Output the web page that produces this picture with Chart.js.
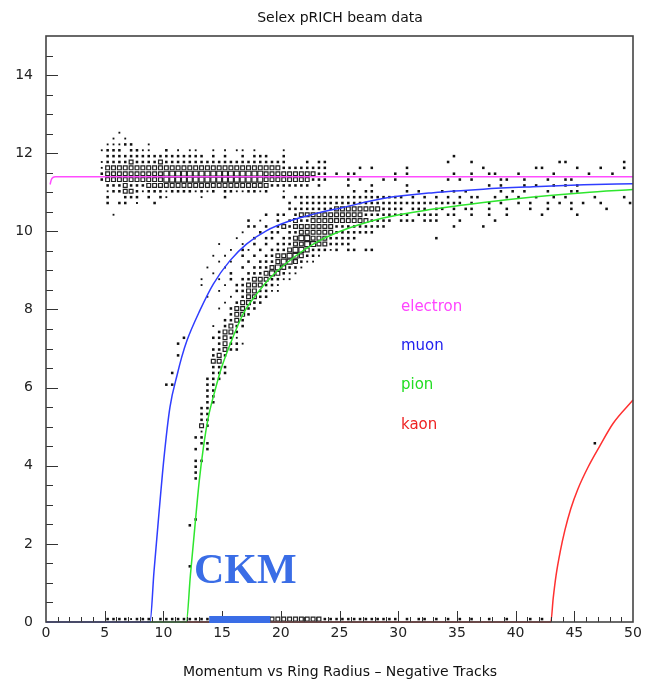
<!DOCTYPE html>
<html lang="en">
<head>
<meta charset="UTF-8">
<title>Selex pRICH beam data</title>
<script src="https://cdn.jsdelivr.net/npm/chart.js"></script>
<style>
  body { margin: 0; background: #fff; }
  #wrap { position: relative; width: 656px; height: 687px; }
</style>
</head>
<body>
<div id="wrap"><canvas id="richChart"></canvas></div>
<script>
// expected ring radius vs momentum: [p, radius]
const electronCurve = [[0.35, 11.2], [0.45, 11.32], [0.6, 11.38], [0.8, 11.4], [50, 11.4]];
const muonCurve = [[0, 0], [8.86, 0], [9.2, 1.3], [9.57, 2.6], [10.05, 4.2], [10.56, 5.5], [11.2, 6.36],
  [11.56, 6.78], [12.0, 7.2], [13.1, 7.97], [14.25, 8.65], [15.67, 9.25], [17.1, 9.68], [18.8, 10.02],
  [20.8, 10.27], [22.8, 10.44], [25.3, 10.61], [28.7, 10.84], [33, 10.99], [37.25, 11.08],
  [41.5, 11.14], [45.8, 11.19], [50, 11.22]];
const pionCurve = [[8.6, 0], [11.95, 0], [12.3, 1.2], [12.7, 2.5], [13.05, 3.6], [13.4, 4.45], [13.8, 5.2],
  [14.4, 5.93], [14.96, 6.52], [15.67, 7.1], [16.8, 7.89], [17.95, 8.4], [19.4, 8.9], [21.1, 9.33],
  [22.8, 9.68], [24.8, 9.97], [28.7, 10.34], [33, 10.57], [37.25, 10.74], [41.5, 10.88],
  [45.8, 10.99], [50, 11.07]];
const kaonCurve = [[11.4, 0], [43.0, 0], [43.2, 0.6], [43.45, 1.2], [43.8, 1.8], [44.2, 2.35], [44.7, 2.9],
  [45.3, 3.4], [46.2, 3.98], [47.2, 4.52], [48.3, 5.08], [50, 5.68]];

const particleNames = ['electron', 'muon', 'pion', 'kaon'];
const xTickLabels = [0, 5, 10, 15, 20, 25, 30, 35, 40, 45, 50];
const yTickLabels = [0, 2, 4, 6, 8, 10, 12, 14];

// 2D histogram, 100 x 100 bins (0.5 in p, 0.15 in radius)
// [row, first column, cell codes]  . empty, 1/2 dot, 3/4 open box
const binX = 0.5, binY = 0.15;
const cellRows = [
  [83, 12, '1'],
  [82, 11, '1.1'],
  [81, 10, '11122..1'],
  [80, 9, '1222.2211..2.1.11..1.1.11.1....1'],
  [79, 10, '22222222222222222.2.2..2.222..2'],
  [78, 9, '12222322223222222222222222222222...2.22'],
  [77, 9, '1' + '3333333333' + '3333333333' + '3333333333' + '22222222'],
  [76, 9, '2' + '3333333333' + '4444444444' + '44444443' + '3333333' + '322'],
  [75, 9, '2' + '3333333333' + '4444444444' + '44444443' + '33333' + '3322' + '2'],
  [74, 10, '2223222333' + '3333333333' + '3333333322' + '22222' + '.2'],
  [73, 10, '1223321222' + '122221212.' + '22112212..1'],
  [72, 10, '2..222.2.21' + '.....1...2' + '.........2.2'],
  [71, 10, '2.22.1..2'],
  [69, 11, '1'],
  [44, 28, '33'],
  [43, 28, '222'],
  [42, 28, '222'],
  [41, 27, '222'],
  [40, 27, '22'],
  [39, 27, '22'],
  [38, 27, '22'],
  [37, 27, '22'],
  [36, 26, '22'],
  [35, 26, '22'],
  [34, 26, '22'],
  [33, 26, '32'],
  [32, 26, '1'],
  [31, 25, '22'],
  [30, 26, '22'],
  [29, 25, '2.2'],
  [27, 25, '22'],
  [26, 25, '2'],
  [25, 25, '2'],
  [45, 28, '232'],
  [46, 28, '22322'],
  [47, 29, '23221'],
  [48, 28, '22321'],
  [49, 29, '2332'],
  [50, 28, '1.2322'],
  [51, 30, '2232'],
  [52, 31, '2332'],
  [53, 29, '1.23322'],
  [54, 30, '1.23322'],
  [55, 27, '1...1.23322'],
  [56, 29, '1..22332211'],
  [57, 26, '1...1.22333221'],
  [58, 26, '1..1.2.223332211'],
  [59, 28, '1..2..222343211'],
  [60, 27, '1..1..2.222343221'],
  [61, 29, '1.1..2.2223443211'],
  [62, 28, '1.1..2.2.2233443221'],
  [63, 31, '1.21.2.22234' + '4322212.22.22'],
  [64, 29, '1...1.2.2.2223' + '344332222'],
  [65, 32, '1..2.22.223' + '4433322222'],
  [66, 33, '1..2.22.22' + '3333332222222'],
  [67, 34, '22.2.2323' + '333333222222222'],
  [68, 34, '2.1..2.23' + '223333333333' + '2222.222.222'],
  [69, 37, '2.22.2' + '33333333333' + '22222222.2222.22'],
  [70, 41, '22222222' + '33333333' + '2222.222.22.2.22'],
  [71, 41, '2.' + '2222222222' + '2222222222' + '22222222'],
  [72, 43, '222222222222222222'],
  [0, 10, '22221222.' + '2222222222222222222' + '333333333' + '2222222222222']
];
// isolated single dots: [row, [columns]]
const looseCells = [
  [79, [69]],
  [78, [68, 72, 87, 88, 98]],
  [77, [53, 55, 61, 74, 83, 84, 90, 94, 98]],
  [76, [49, 51, 52, 59, 61, 69, 72, 75, 76, 80, 86, 92, 96]],
  [75, [51, 53, 57, 59, 68, 70, 72, 77, 78, 81, 85, 88, 89]],
  [74, [51, 55, 61, 75, 77, 81, 83, 86, 88, 90]],
  [73, [52, 54, 55, 61, 63, 67, 69, 71, 77, 79, 81, 85, 89, 90]],
  [72, [62, 64, 66, 68, 70, 72, 73, 76, 78, 80, 83, 86, 88, 93, 98]],
  [71, [72, 75, 77, 80, 82, 85, 87, 89, 91, 94, 99]],
  [70, [75, 78, 82, 85, 89, 95]],
  [69, [72, 75, 78, 84, 90]],
  [68, [70, 76]],
  [67, [69, 74]],
  [65, [66]],
  [48, [23]], [47, [22]], [45, [22]], [42, [21]], [40, [20, 21]],
  [24, [25]], [17, [25]], [16, [24]], [9, [24]],
  [30, [93]],
  [0, [61, 63, 64, 66, 68, 70, 72, 75, 78, 82, 84]]
];

const cells = [];
const cellAt = (j, i, s) => cells.push({ x: binX * (i + 0.5), y: binY * (j + 0.5), s: s });
cellRows.forEach(([j, i0, codes]) => {
  [...codes].forEach((c, k) => { if (c !== '.') cellAt(j, i0 + k, +c); });
});
looseCells.forEach(([j, cols]) => cols.forEach(i => cellAt(j, i, 2)));

const boxRadius = { 1: 1.3, 2: 1.8, 3: 2.7, 4: 3.5 };
const lineColors = ['#ff4dff', '#2f3dff', '#2ee62e', '#ff3030'];
const textColors = ['#ff44ff', '#2222ee', '#22dd22', '#ee2222'];
const ckmBlue = '#3a6de6';

const toPts = arr => arr.map(([x, y]) => ({ x, y }));
const curve = (data, color) => ({
  data: toPts(data),
  showLine: true,
  borderColor: color,
  borderWidth: 1.5,
  pointRadius: 0,
  cubicInterpolationMode: 'monotone',
  clip: 4
});

const richDecor = {
  id: 'richDecor',
  afterDatasetsDraw(chart) {
    const { ctx, chartArea: a, scales: { x, y } } = chart;
    ctx.save();
    // inward ticks
    ctx.strokeStyle = '#333';
    ctx.lineWidth = 1;
    ctx.beginPath();
    for (let v = 1; v < 50; v++) {
      const px = Math.round(x.getPixelForValue(v)) + 0.5;
      const len = v % 5 === 0 ? 11 : 5;
      ctx.moveTo(px, a.bottom);
      ctx.lineTo(px, a.bottom - len);
    }
    for (let k = 1; k < 30; k++) {
      const v = k * 0.5;
      const py = Math.round(y.getPixelForValue(v)) + 0.5;
      const len = v % 2 === 0 ? 12 : 7;
      ctx.moveTo(a.left, py);
      ctx.lineTo(a.left + len, py);
    }
    ctx.stroke();
    // frame
    ctx.strokeStyle = '#444';
    ctx.lineWidth = 1.6;
    ctx.strokeRect(a.left, a.top, a.right - a.left, a.bottom - a.top);
    // CKM bar on the axis
    ctx.fillStyle = ckmBlue;
    const bx0 = x.getPixelForValue(13.9), bx1 = x.getPixelForValue(19.1);
    ctx.fillRect(bx0, a.bottom - 6, bx1 - bx0, 7);
    ctx.restore();
  },
  afterDraw(chart) {
    const { ctx } = chart;
    ctx.save();
    ctx.fillStyle = '#111';
    ctx.textBaseline = 'middle';
    ctx.textAlign = 'center';
    ctx.font = '14px "DejaVu Sans"';
    ctx.fillText('Selex pRICH beam data', 340, 18);
    ctx.fillText('Momentum vs Ring Radius \u2013 Negative Tracks', 340, 672);
    ctx.textAlign = 'left';
    ctx.textBaseline = 'alphabetic';
    ctx.font = '15px "DejaVu Sans"';
    const baselines = [311, 350, 389, 429];
    particleNames.forEach((name, k) => {
      ctx.fillStyle = textColors[k];
      ctx.fillText(name, 401, baselines[k]);
    });
    ctx.fillStyle = ckmBlue;
    ctx.font = 'bold 42px "Liberation Serif"';
    ctx.fillText('CKM', 194, 583);
    ctx.restore();
  }
};

const tickFont = { family: 'DejaVu Sans', size: 14 };

new Chart(document.getElementById('richChart'), {
  type: 'scatter',
  data: {
    datasets: [
      curve(electronCurve, lineColors[0]),
      curve(muonCurve, lineColors[1]),
      curve(pionCurve, lineColors[2]),
      curve(kaonCurve, lineColors[3]),
      {
        data: cells,
        pointStyle: 'rect',
        pointRadius: c => (c.raw ? boxRadius[c.raw.s] : 2),
        pointBackgroundColor: c => (c.raw && c.raw.s >= 3 ? '#fff' : '#111'),
        pointBorderColor: '#222',
        pointBorderWidth: c => (c.raw && c.raw.s >= 3 ? 1.2 : 0),
        clip: 4
      }
    ]
  },
  options: {
    responsive: true,
    maintainAspectRatio: false,
    animation: false,
    events: [],
    layout: { padding: { top: 36, right: 23, left: 0, bottom: 0 } },
    plugins: { legend: { display: false }, tooltip: { enabled: false } },
    scales: {
      x: {
        type: 'linear',
        min: 0,
        max: 50,
        afterBuildTicks: s => { s.ticks = xTickLabels.map(v => ({ value: v })); },
        afterFit: s => { s.height = 65; },
        grid: { display: false, drawTicks: false },
        border: { display: false },
        ticks: { color: '#222', font: tickFont, padding: 3, maxRotation: 0, autoSkip: false }
      },
      y: {
        type: 'linear',
        min: 0,
        max: 15,
        afterBuildTicks: s => { s.ticks = yTickLabels.map(v => ({ value: v })); },
        afterFit: s => { s.width = 46; },
        grid: { display: false, drawTicks: false },
        border: { display: false },
        ticks: { color: '#222', font: tickFont, padding: 13, autoSkip: false }
      }
    }
  },
  plugins: [richDecor]
});
</script>
</body>
</html>
